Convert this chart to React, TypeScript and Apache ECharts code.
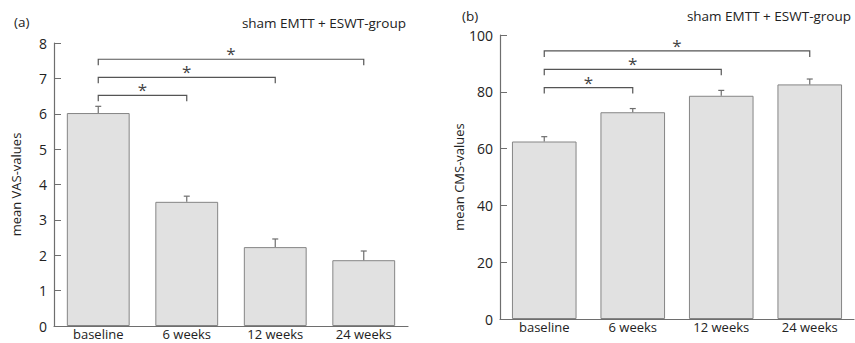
import React, { useEffect, useRef } from "react";
import * as echarts from "echarts";

const categories = ["baseline", "6 weeks", "12 weeks", "24 weeks"];

const vasMeans = [6.02, 3.51, 2.23, 1.86];
const vasErrTop = [6.21, 3.67, 2.46, 2.12];
const vasBrackets = [
  [0, 1, 6.52],
  [0, 2, 7.03],
  [0, 3, 7.54],
];

const cmsMeans = [62.5, 72.8, 78.6, 82.6];
const cmsErrTop = [64.2, 74.1, 80.5, 84.5];
const cmsBrackets = [
  [0, 1, 81.5],
  [0, 2, 87.9],
  [0, 3, 94.4],
];

const vasTicks = { min: 0, max: 8, interval: 1 };
const cmsTicks = { min: 0, max: 100, interval: 20 };

const FONT = "Open Sans";
const TEXT = "#222";
const AXIS = "#6e6e6e";

export default function App() {
  const ref = useRef<HTMLDivElement>(null);
  useEffect(() => {
    document.body.style.margin = "0";
    const chart = echarts.init(ref.current!, null, { renderer: "svg" });

    const errRender = (params: any, api: any) => {
      const idx = api.value(0);
      const base = api.coord([idx, api.value(1)]);
      const top = api.coord([idx, api.value(2)]);
      const st = { stroke: AXIS, lineWidth: 1.2 };
      return {
        type: "group",
        children: [
          { type: "line", shape: { x1: base[0], y1: base[1], x2: top[0], y2: top[1] }, style: st },
          { type: "line", shape: { x1: top[0] - 3, y1: top[1], x2: top[0] + 3, y2: top[1] }, style: st },
        ],
      };
    };

    const bracketRender = (params: any, api: any) => {
      const a = api.coord([api.value(0), api.value(2)]);
      const b = api.coord([api.value(1), api.value(2)]);
      const y = a[1];
      return {
        type: "group",
        children: [
          {
            type: "polyline",
            shape: { points: [[a[0], y + 6], [a[0], y], [b[0], y], [b[0], y + 6]] },
            style: { stroke: "#555", lineWidth: 1.2, fill: "none" },
          },
          {
            type: "text",
            x: (a[0] + b[0]) / 2,
            y: y + 3,
            style: {
              text: "*",
              fontSize: 17,
              fontFamily: FONT,
              fill: "#444",
              align: "center",
              verticalAlign: "bottom",
            },
          },
        ],
      };
    };

    const xAxisCommon = {
      type: "category",
      data: categories,
      boundaryGap: true,
      axisLine: { lineStyle: { color: AXIS, width: 1.2 } },
      axisTick: { inside: true, length: 6, lineStyle: { color: AXIS } },
      axisLabel: { color: TEXT, fontSize: 13, lineHeight: 13, fontFamily: FONT, margin: 1 },
    };
    const yAxisCommon = {
      type: "value",
      nameLocation: "middle",
      nameGap: 32,
      nameTextStyle: { color: TEXT, fontSize: 13, fontFamily: FONT },
      axisLine: { show: true, lineStyle: { color: AXIS, width: 1.2 } },
      axisTick: { show: true, inside: true, length: 7, lineStyle: { color: AXIS } },
      axisLabel: { color: TEXT, fontSize: 14, fontFamily: FONT, margin: 7 },
      splitLine: { show: false },
    };

    const barStyle = { color: "#e1e1e1", borderColor: "#858585", borderWidth: 1 };

    chart.setOption({
      animation: false,
      grid: [
        { left: 54, top: 43, width: 354, height: 283 },
        { left: 500, top: 35, width: 354, height: 284 },
      ],
      xAxis: [
        { ...xAxisCommon, gridIndex: 0 },
        { ...xAxisCommon, gridIndex: 1 },
      ],
      yAxis: [
        { ...yAxisCommon, gridIndex: 0, name: "mean VAS-values", ...vasTicks },
        { ...yAxisCommon, gridIndex: 1, name: "mean CMS-values", ...cmsTicks },
      ],
      graphic: [
        { type: "text", x: 14, y: 22, style: { text: "(a)", fontSize: 13.5, fontFamily: FONT, fill: TEXT, verticalAlign: "middle" } },
        { type: "text", x: 406, y: 23, style: { text: "sham EMTT + ESWT-group", fontSize: 13.5, fontFamily: FONT, fill: TEXT, align: "right", verticalAlign: "middle" } },
        { type: "text", x: 462, y: 16, style: { text: "(b)", fontSize: 13.5, fontFamily: FONT, fill: TEXT, verticalAlign: "middle" } },
        { type: "text", x: 851, y: 16, style: { text: "sham EMTT + ESWT-group", fontSize: 13.5, fontFamily: FONT, fill: TEXT, align: "right", verticalAlign: "middle" } },
      ],
      series: [
        { type: "bar", xAxisIndex: 0, yAxisIndex: 0, data: vasMeans, barWidth: "71%", itemStyle: barStyle },
        {
          type: "custom", xAxisIndex: 0, yAxisIndex: 0, renderItem: errRender,
          encode: { x: 0, y: [1, 2] },
          data: vasMeans.map((m, i) => [i, m, vasErrTop[i]]),
          z: 3,
        },
        {
          type: "custom", xAxisIndex: 0, yAxisIndex: 0, renderItem: bracketRender,
          encode: { x: [0, 1], y: 2 },
          data: vasBrackets, clip: false, z: 3,
        },
        { type: "bar", xAxisIndex: 1, yAxisIndex: 1, data: cmsMeans, barWidth: "73%", itemStyle: barStyle },
        {
          type: "custom", xAxisIndex: 1, yAxisIndex: 1, renderItem: errRender,
          encode: { x: 0, y: [1, 2] },
          data: cmsMeans.map((m, i) => [i, m, cmsErrTop[i]]),
          z: 3,
        },
        {
          type: "custom", xAxisIndex: 1, yAxisIndex: 1, renderItem: bracketRender,
          encode: { x: [0, 1], y: 2 },
          data: cmsBrackets, clip: false, z: 3,
        },
      ],
    });
    return () => chart.dispose();
  }, []);
  return <div ref={ref} style={{ width: 855, height: 343 }} />;
}
